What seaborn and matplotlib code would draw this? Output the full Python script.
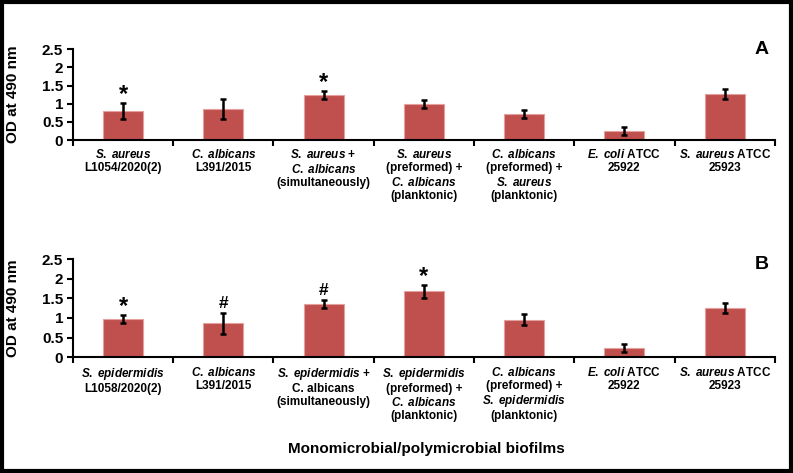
import matplotlib
matplotlib.use("Agg")
import matplotlib.pyplot as plt
import seaborn as sns
import pandas as pd
from matplotlib.patches import Rectangle

# ---------------- data ----------------
labels_a = [
    r"$\it{S.\;aureus}$" + "\nL1054/2020(2)",
    r"$\it{C.\;albicans}$" + "\nL391/2015",
    r"$\it{S.\;aureus}$ +" + "\n" + r"$\it{C.\;albicans}$" + "\n(simultaneously)",
    r"$\it{S.\;aureus}$" + "\n(preformed) +\n" + r"$\it{C.\;albicans}$" + "\n(planktonic)",
    r"$\it{C.\;albicans}$" + "\n(preformed) +\n" + r"$\it{S.\;aureus}$" + "\n(planktonic)",
    r"$\it{E.\;coli}$ ATCC" + "\n25922",
    r"$\it{S.\;aureus}$ ATCC" + "\n25923",
]
values_a = [0.80, 0.86, 1.24, 0.99, 0.72, 0.25, 1.27]
errors_a = [0.22, 0.27, 0.10, 0.11, 0.11, 0.10, 0.13]
marks_a = ["*", "", "*", "", "", "", ""]

labels_b = [
    r"$\it{S.\;epidermidis}$" + "\nL1058/2020(2)",
    r"$\it{C.\;albicans}$" + "\nL391/2015",
    r"$\it{S.\;epidermidis}$ +" + "\nC. albicans\n(simultaneously)",
    r"$\it{S.\;epidermidis}$" + "\n(preformed) +\n" + r"$\it{C.\;albicans}$" + "\n(planktonic)",
    r"$\it{C.\;albicans}$" + "\n(preformed) +\n" + r"$\it{S.\;epidermidis}$" + "\n(planktonic)",
    r"$\it{E.\;coli}$ ATCC" + "\n25922",
    r"$\it{S.\;aureus}$ ATCC" + "\n25923",
]
values_b = [0.97, 0.86, 1.36, 1.68, 0.96, 0.24, 1.26]
errors_b = [0.11, 0.27, 0.11, 0.17, 0.13, 0.11, 0.13]
marks_b = ["*", "#", "#", "*", "", "", ""]

panel_letters = ["A", "B"]
y_ticks = [0, 0.5, 1, 1.5, 2, 2.5]
y_tick_labels = ["0", "0.5", "1", "1.5", "2", "2.5"]
y_label = "OD at 490 nm"
x_label = "Monomicrobial/polymicrobial biofilms"

# ---------------- style ----------------
sns.set_theme(style="white")
plt.rcParams["font.family"] = ["Liberation Sans", "DejaVu Sans"]
plt.rcParams["mathtext.fontset"] = "custom"
plt.rcParams["mathtext.rm"] = "Liberation Sans:bold"
plt.rcParams["mathtext.it"] = "Liberation Sans:italic:bold"
plt.rcParams["mathtext.bf"] = "Liberation Sans:bold"

BAR = "#C0504D"
EDGE = "#E3A09E"

fig = plt.figure(figsize=(7.93, 4.73), dpi=100)
fig.patch.set_facecolor("white")
fig.add_artist(Rectangle((0.003, 0.005), 0.994, 0.99, transform=fig.transFigure,
                         fill=False, edgecolor="black", linewidth=3))

ax_a = fig.add_axes([0.092, 0.704, 0.885, 0.192])
ax_b = fig.add_axes([0.092, 0.2446, 0.885, 0.2078])

panels = [
    (ax_a, labels_a, values_a, errors_a, marks_a, panel_letters[0], 1.0),
    (ax_b, labels_b, values_b, errors_b, marks_b, panel_letters[1], 0.94),
]

for ax, labels, vals, errs, marks, letter, ly in panels:
    df = pd.DataFrame({"group": [str(i) for i in range(len(vals))], "od": vals})
    sns.barplot(data=df, x="group", y="od", ax=ax, color=BAR, width=0.4,
                saturation=1, edgecolor=EDGE, linewidth=0.8, errorbar=None)
    xs = list(range(len(vals)))
    ax.errorbar(xs, vals, yerr=errs, fmt="none", ecolor="black",
                elinewidth=1.8, capsize=2.5, capthick=1.8, zorder=5)
    for x, v, e, m in zip(xs, vals, errs, marks):
        if m == "*":
            ax.text(x, v + e - 0.08, m, ha="center", va="bottom",
                    fontsize=17, fontweight="bold", color="black")
        elif m:
            ax.text(x, v + e + 0.04, m, ha="center", va="bottom",
                    fontsize=12.5, fontweight="bold", color="black")
    ax.set_xlim(-0.5, len(vals) - 0.5)
    ax.set_ylim(0, 2.5)
    ax.set_yticks(y_ticks)
    ax.set_yticklabels(y_tick_labels, fontsize=11, fontweight="bold")
    ax.set_xticks(xs)
    ax.set_xticklabels(labels, fontsize=8.5, fontweight="bold", linespacing=1.12)
    ax.set_xticks([i - 0.5 for i in range(len(vals) + 1)], minor=True)
    ax.tick_params(axis="x", which="major", length=0, pad=6, colors="black")
    ax.tick_params(axis="x", which="minor", length=4, width=1.5, direction="out",
                   color="black", bottom=True)
    ax.tick_params(axis="y", which="major", length=4, width=1.5, direction="out",
                   pad=3, colors="black", left=True)
    for s in ["top", "right"]:
        ax.spines[s].set_visible(False)
    for s in ["left", "bottom"]:
        ax.spines[s].set_color("black")
        ax.spines[s].set_linewidth(1.5)
    ax.set_xlabel("")
    ax.set_ylabel(y_label, fontsize=11, fontweight="bold", color="black")
    ax.yaxis.set_label_coords(-0.075, 0.5)
    ax.text(0.981, ly, letter, transform=ax.transAxes, ha="center", va="center",
            fontsize=14, fontweight="bold", color="black")
    ax.set_facecolor("white")

ax_b.set_xlabel(x_label, fontsize=11, fontweight="bold", color="black")
ax_b.xaxis.set_label_coords(0.503, -0.862)

fig.savefig("out.png", dpi=100, facecolor="white")
